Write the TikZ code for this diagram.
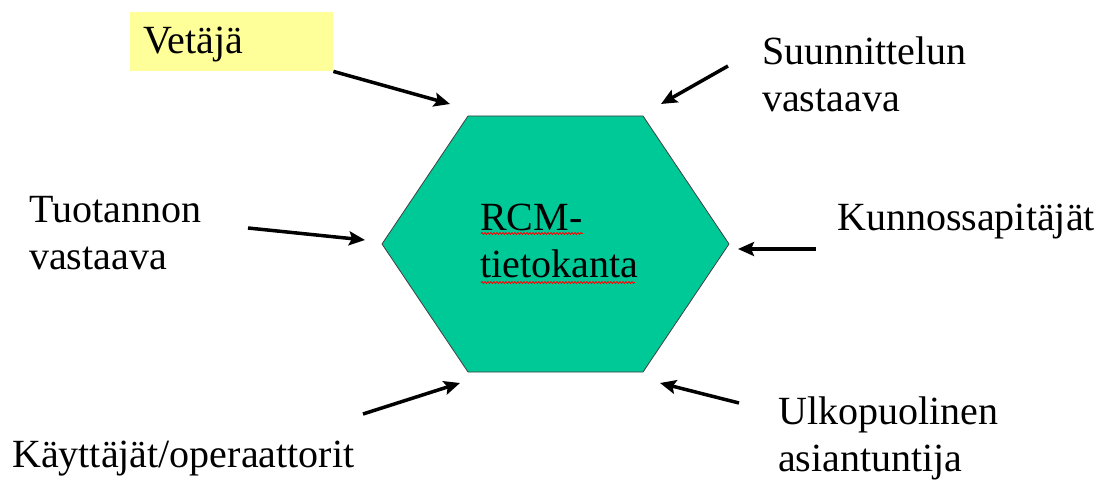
\documentclass[tikz,border=0pt]{standalone}
\usepackage{fontspec}
\setmainfont{Liberation Serif}
\usetikzlibrary{arrows.meta,decorations.pathmorphing}
\definecolor{hexgreen}{HTML}{00C998}
\definecolor{hiyellow}{HTML}{FFFF99}
\tikzset{
  lbl/.style={anchor=base west,inner sep=0pt,font=\fontsize{40}{47}\selectfont},
  arr/.style={line width=3.5pt,-{Stealth[length=16pt,width=14pt,inset=3pt]}},
  squiggle/.style={red,line width=0.8pt,decorate,decoration={snake,amplitude=1pt,segment length=3pt}}
}
\newcommand{\twolines}[2]{\begin{tabular}[t]{@{}l@{}}#1\\#2\end{tabular}}
\begin{document}
\begin{tikzpicture}[x=1pt,y=-1pt]
\useasboundingbox (0,0) rectangle (1107,481);
% hexagon
\draw[fill=hexgreen,draw=black!75,line width=0.8pt]
  (468,116) -- (643,116) -- (729,244) -- (643,372) -- (468,372) -- (382,244) -- cycle;
\node[lbl] (rcm) at (480,230) {\twolines{RCM-}{tietokanta}};
\draw[squiggle] (481,233.5) -- (583,233.5);
\draw[squiggle] (481,282.5) -- (635,282.5);
% labels
\node[lbl,anchor=north west,fill=hiyellow,minimum height=59pt,
      inner xsep=13pt,text width=177pt,align=left,text height=30pt,text depth=7pt] (vetaja) at (130,12) {Vetäjä};
\node[lbl] (suun) at (762,65) {\twolines{Suunnittelun}{vastaava}};
\node[lbl] (tuot) at (29,222) {\twolines{Tuotannon}{vastaava}};
\node[lbl] (kunn) at (837,230) {Kunnossapitäjät};
\node[lbl] (kayt) at (12,467) {Käyttäjät/operaattorit};
\node[lbl] (ulko) at (778,424) {\twolines{Ulkopuolinen}{asiantuntija}};
% arrow endpoints
\coordinate (a1s) at (vetaja.south east);  \coordinate (a1e) at (450,104);
\coordinate (a2s) at (728,66);  \coordinate (a2e) at (661,104);
\coordinate (a3s) at (248,228); \coordinate (a3e) at (365,240);
\coordinate (a4s) at (816,249); \coordinate (a4e) at (738,249);
\coordinate (a5s) at (363,414); \coordinate (a5e) at (460,383);
\coordinate (a6s) at (739,403); \coordinate (a6e) at (660,383);
\draw[arr] (a1s) -- (a1e);
\draw[arr] (a2s) -- (a2e);
\draw[arr] (a3s) -- (a3e);
\draw[arr] (a4s) -- (a4e);
\draw[arr] (a5s) -- (a5e);
\draw[arr] (a6s) -- (a6e);
\end{tikzpicture}
\end{document}
